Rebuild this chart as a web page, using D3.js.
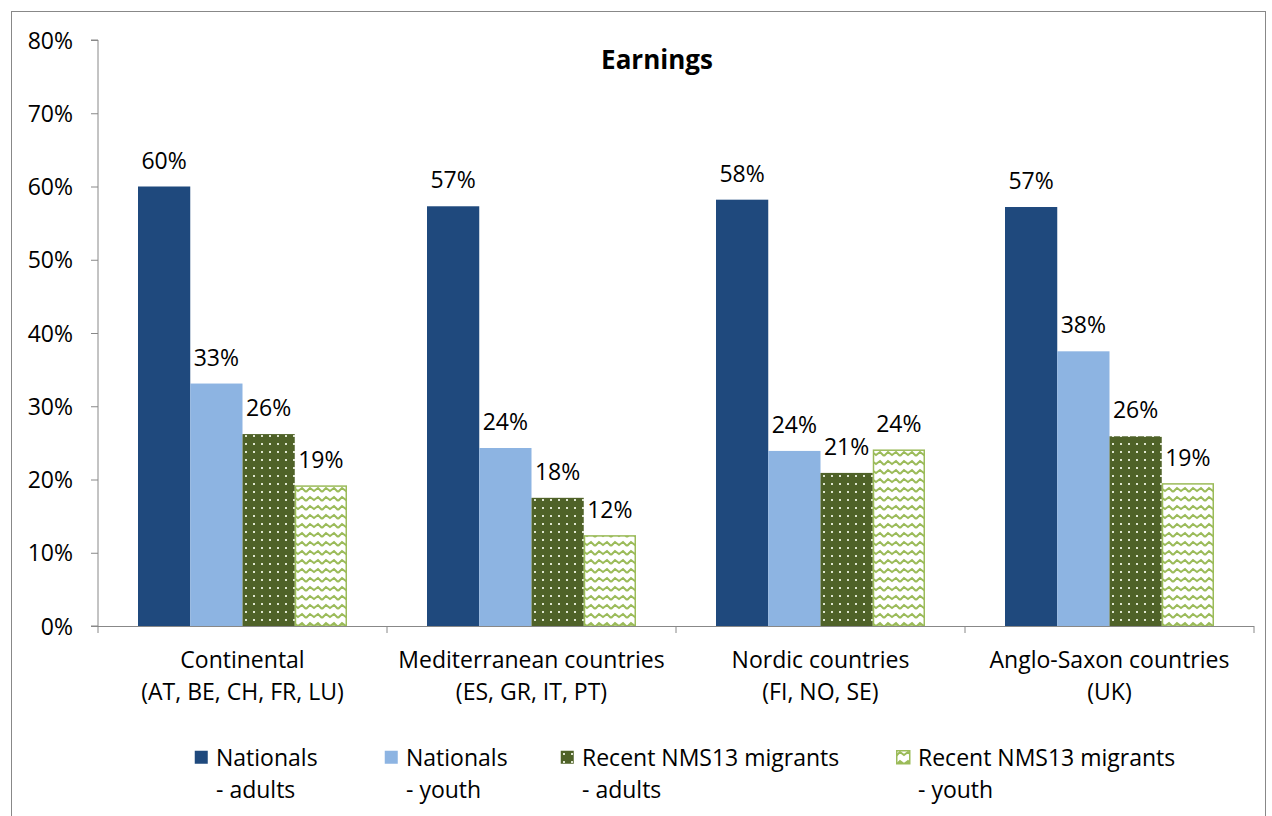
<!DOCTYPE html>
<html>
<head>
<meta charset="utf-8">
<script src="https://cdn.jsdelivr.net/npm/d3@7"></script>
<style>
  body { margin: 0; background: #fff; }
  svg text { font-family: "Open Sans", sans-serif; fill: #000; }
</style>
</head>
<body>
<svg id="chart" width="1272" height="816"></svg>
<script>
'use strict';
(function() {
  // data
  var categories = ['Continental|(AT, BE, CH, FR, LU)', 'Mediterranean countries|(ES, GR, IT, PT)',
    'Nordic countries|(FI, NO, SE)', 'Anglo-Saxon countries|(UK)'];
  var seriesNames = ['Nationals|- adults', 'Nationals|- youth', 'Recent NMS13 migrants|- adults', 'Recent NMS13 migrants|- youth'];
  var natAdults = [60.0, 57.3, 58.2, 57.2];
  var natYouth = [33.1, 24.3, 23.9, 37.5];
  var migAdults = [26.2, 17.5, 20.9, 25.9];
  var migYouth = [19.1, 12.3, 24.0, 19.4];
  var yTicks = [0, 10, 20, 30, 40, 50, 60, 70, 80];

  var series = [natAdults, natYouth, migAdults, migYouth];
  var fills = ['#1F497D', '#8DB4E2', 'url(#dots)', 'url(#waves)'];
  var strokes = ['none', 'none', 'none', '#9BBB59'];
  var fs = '23px';

  var svg = d3.select('#chart');

  // patterns
  var defs = svg.append('defs');
  var dots = defs.append('pattern').attr('id', 'dots')
    .attr('patternUnits', 'userSpaceOnUse').attr('width', 8).attr('height', 8);
  dots.append('rect').attr('width', 8).attr('height', 8).attr('fill', '#4F6228');
  dots.append('rect').attr('x', 3).attr('y', 3).attr('width', 2).attr('height', 2).attr('fill', '#dfe6d0');

  var waves = defs.append('pattern').attr('id', 'waves')
    .attr('patternUnits', 'userSpaceOnUse').attr('width', 16).attr('height', 9);
  waves.append('rect').attr('width', 16).attr('height', 9).attr('fill', '#fff');
  waves.append('path').attr('d', 'M0,6 L4,2 L8,5 L12,2 L16,6').attr('fill', 'none')
    .attr('stroke', '#9BBB59').attr('stroke-width', 2);

  // outer frame
  svg.append('rect').attr('x', 11.5).attr('y', 11.5).attr('width', 1254).attr('height', 820)
    .attr('fill', 'none').attr('stroke', '#888').attr('stroke-width', 1);

  var left = 98, right = 1254, top = 40, bottom = 626;

  var x0 = d3.scaleBand().domain(d3.range(categories.length)).range([left, right]).paddingInner(0).paddingOuter(0);
  var x1 = d3.scaleBand().domain(d3.range(series.length)).range([40, x0.bandwidth() - 40]);
  var y = d3.scaleLinear().domain([0, 80]).range([bottom, top]);

  // title
  svg.append('text').attr('x', 657).attr('y', 69).attr('text-anchor', 'middle')
    .style('font-size', '26px').style('font-weight', 'bold').text('Earnings');

  // y axis
  var yAxis = svg.append('g').attr('transform', 'translate(' + left + ',0)')
    .call(d3.axisLeft(y).tickValues(yTicks).tickSize(7).tickPadding(18)
      .tickFormat(function(d) { return d + '%'; }));
  yAxis.select('.domain').attr('stroke', '#888').attr('d', 'M-7,' + top + 'H0V' + bottom + 'H-7');
  yAxis.selectAll('.tick line').attr('stroke', '#888');
  yAxis.selectAll('.tick text').style('font-size', fs).attr('dy', '0.35em');

  // bars
  categories.forEach(function(c, ci) {
    var g = svg.append('g').attr('transform', 'translate(' + x0(ci) + ',0)');
    series.forEach(function(s, si) {
      var v = s[ci];
      g.append('rect')
        .attr('x', x1(si) + (strokes[si] !== 'none' ? 0.75 : 0))
        .attr('y', y(v))
        .attr('width', x1.bandwidth() - (strokes[si] !== 'none' ? 1.5 : 0))
        .attr('height', y(0) - y(v))
        .attr('fill', fills[si])
        .attr('stroke', strokes[si])
        .attr('stroke-width', 1.5);
      g.append('text')
        .attr('x', x1(si) + x1.bandwidth() / 2)
        .attr('y', y(v) - 18)
        .attr('text-anchor', 'middle')
        .style('font-size', fs)
        .text(Math.round(v) + '%');
    });
  });

  // x axis
  var xAxis = svg.append('g');
  xAxis.append('line').attr('x1', left - 7).attr('x2', right).attr('y1', bottom + 0.5).attr('y2', bottom + 0.5)
    .attr('stroke', '#888');
  d3.range(categories.length + 1).forEach(function(i) {
    var xp = left + i * x0.bandwidth();
    xAxis.append('line').attr('x1', xp).attr('x2', xp).attr('y1', bottom).attr('y2', bottom + 7)
      .attr('stroke', '#888');
  });
  categories.forEach(function(c, ci) {
    var t = xAxis.append('text').attr('text-anchor', 'middle').style('font-size', fs);
    c.split('|').forEach(function(line, li) {
      t.append('tspan').attr('x', x0(ci) + x0.bandwidth() / 2).attr('y', 668 + li * 32).text(line);
    });
  });

  // legend
  var legX = [194, 384, 560, 896];
  var legend = svg.append('g');
  seriesNames.forEach(function(n, i) {
    var lg = legend.append('g').attr('transform', 'translate(' + legX[i] + ',750)');
    lg.append('rect').attr('x', 0.75).attr('y', 0.75).attr('width', 13).attr('height', 13)
      .attr('fill', fills[i]).attr('stroke', strokes[i] === 'none' ? 'none' : strokes[i]).attr('stroke-width', 1.5);
    var parts = n.split('|');
    lg.append('text').attr('x', 22).attr('y', 16).style('font-size', fs).text(parts[0]);
    lg.append('text').attr('x', 22).attr('y', 48).style('font-size', fs).text(parts[1]);
  });
})();
</script>
</body>
</html>
